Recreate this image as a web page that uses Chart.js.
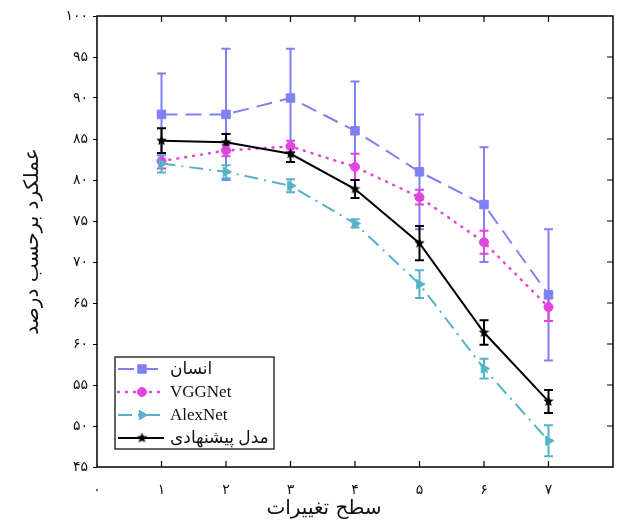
<!DOCTYPE html>
<html>
<head>
<meta charset="utf-8">
<script src="https://cdn.jsdelivr.net/npm/chart.js@4/dist/chart.umd.min.js"></script>
<style>
html,body{margin:0;padding:0;background:#fff;}
#wrap{width:620px;height:526px;position:relative;}
</style>
</head>
<body>
<div id="wrap"><canvas id="c" width="620" height="526"></canvas></div>
<script>
// ---- data ----
const levels = [1, 2, 3, 4, 5, 6, 7];
const seriesNames = ['انسان', 'VGGNet', 'AlexNet', 'مدل پیشنهادی'];
const humanMean = [88, 88, 90, 86, 81, 77, 66];
const humanErr  = [5, 8, 6, 6, 7, 7, 8];
const vggMean   = [82.3, 83.6, 84.1, 81.6, 77.9, 72.4, 64.5];
const vggErr    = [0.9, 0.7, 0.7, 1.6, 0.9, 1.4, 1.7];
const alexMean  = [82.0, 81.0, 79.3, 74.7, 67.3, 57.0, 48.2];
const alexErr   = [1.1, 0.8, 0.8, 0.5, 1.7, 1.2, 1.9];
const propMean  = [84.8, 84.6, 83.2, 78.9, 72.3, 61.4, 53.0];
const propErr   = [1.5, 1.0, 1.0, 1.1, 2.1, 1.5, 1.4];
const xTickLabels = ['۰', '۱', '۲', '۳', '۴', '۵', '۶', '۷', ''];
const yTickLabels = ['۴۵', '۵۰', '۵۵', '۶۰', '۶۵', '۷۰', '۷۵', '۸۰', '۸۵', '۹۰', '۹۵', '۱۰۰'];
const xTitle = 'سطح تغییرات';
const yTitle = 'عملکرد برحسب درصد';

const toPts = (m) => levels.map((x, i) => ({x: x, y: m[i]}));
const FONT = '"Liberation Serif", "DejaVu Sans", serif';
const PFONT = '"DejaVu Sans", sans-serif';

// filled five-point star marker
function makeStar(size, color) {
  const c = document.createElement('canvas');
  c.width = size; c.height = size;
  const g = c.getContext('2d');
  const cx = size / 2, cy = size / 2, R = size / 2, r = R * 0.45;
  g.beginPath();
  for (let i = 0; i < 10; i++) {
    const ang = -Math.PI / 2 + i * Math.PI / 5;
    const rr = i % 2 === 0 ? R : r;
    const px = cx + rr * Math.cos(ang), py = cy + rr * Math.sin(ang);
    if (i === 0) g.moveTo(px, py); else g.lineTo(px, py);
  }
  g.closePath();
  g.fillStyle = color;
  g.fill();
  return c;
}
const starImg = makeStar(11, '#000');

const styles = [
  {color: '#8080f6', dash: [16, 8], cap: 'butt', width: 2, style: 'rect', r: 6, rot: 0, bw: 1},
  {color: '#e045e0', dash: [1, 7], cap: 'round', width: 2.5, style: 'circle', r: 4.5, rot: 0, bw: 1},
  {color: '#55b3c8', dash: [14, 6, 2, 6], cap: 'butt', width: 2, style: 'triangle', r: 5.5, rot: 90, bw: 1},
  {color: '#000000', dash: [], cap: 'butt', width: 2, style: starImg, r: 5, rot: 0, bw: 1}
];
const means = [humanMean, vggMean, alexMean, propMean];
const errs = [humanErr, vggErr, alexErr, propErr];
const orders = [3, 2, 1, 0];

const datasets = seriesNames.map((name, k) => ({
  label: name,
  data: toPts(means[k]),
  errors: errs[k],
  borderColor: styles[k].color,
  backgroundColor: styles[k].color,
  borderWidth: styles[k].width,
  borderDash: styles[k].dash,
  borderCapStyle: styles[k].cap,
  pointStyle: styles[k].style,
  pointRadius: styles[k].r,
  pointRotation: styles[k].rot,
  pointBorderWidth: styles[k].bw,
  pointBackgroundColor: styles[k].color,
  pointBorderColor: styles[k].color,
  tension: 0,
  fill: false,
  order: orders[k]
}));

const errorBars = {
  id: 'errorBars',
  beforeDatasetsDraw(chart) {
    const {ctx, scales: {x, y}} = chart;
    ctx.save();
    chart.data.datasets.forEach((ds) => {
      ctx.strokeStyle = ds.borderColor;
      ctx.lineWidth = 2;
      ctx.setLineDash([]);
      ds.data.forEach((p, j) => {
        const e = ds.errors[j];
        const px = x.getPixelForValue(p.x);
        const t = y.getPixelForValue(p.y + e);
        const b = y.getPixelForValue(p.y - e);
        ctx.beginPath();
        ctx.moveTo(px, t); ctx.lineTo(px, b);
        ctx.moveTo(px - 4.5, t); ctx.lineTo(px + 4.5, t);
        ctx.moveTo(px - 4.5, b); ctx.lineTo(px + 4.5, b);
        ctx.stroke();
      });
    });
    ctx.restore();
  }
};

const frame = {
  id: 'frame',
  afterDraw(chart) {
    const {ctx, chartArea: a, scales: {x, y}} = chart;
    ctx.save();
    ctx.strokeStyle = '#000';
    ctx.lineWidth = 1.5;
    ctx.setLineDash([]);
    ctx.strokeRect(a.left, a.top, a.width, a.height);
    ctx.lineWidth = 1.2;
    ctx.beginPath();
    levels.forEach((v) => {
      const px = x.getPixelForValue(v);
      ctx.moveTo(px, a.top); ctx.lineTo(px, a.top + 6);
      ctx.moveTo(px, a.bottom); ctx.lineTo(px, a.bottom - 6);
    });
    y.ticks.forEach((t) => {
      if (t.value <= y.min || t.value >= y.max) return;
      const py = y.getPixelForValue(t.value);
      ctx.moveTo(a.right, py); ctx.lineTo(a.right - 6, py);
    });
    ctx.stroke();

    // legend
    const lx = a.left + 18, ly = a.bottom - 110, lw = 159, lh = 92;
    ctx.fillStyle = '#fff';
    ctx.fillRect(lx, ly, lw, lh);
    ctx.strokeStyle = '#333';
    ctx.lineWidth = 1.5;
    ctx.strokeRect(lx, ly, lw, lh);
    chart.data.datasets.forEach((ds, k) => {
      const ry = ly + 12 + k * 23;
      ctx.save();
      ctx.strokeStyle = ds.borderColor;
      ctx.lineWidth = ds.borderWidth;
      ctx.setLineDash(ds.borderDash);
      ctx.lineCap = ds.borderCapStyle;
      ctx.beginPath();
      ctx.moveTo(lx + 3, ry); ctx.lineTo(lx + 49, ry);
      ctx.stroke();
      ctx.setLineDash([]);
      ctx.fillStyle = ds.pointBackgroundColor;
      ctx.lineWidth = ds.pointBorderWidth;
      Chart.helpers.drawPoint(ctx, {pointStyle: ds.pointStyle, radius: ds.pointRadius, rotation: ds.pointRotation, borderWidth: ds.pointBorderWidth}, lx + 27, ry);
      ctx.restore();
      ctx.fillStyle = '#111';
      ctx.font = '17px ' + FONT;
      ctx.textAlign = 'left';
      ctx.textBaseline = 'middle';
      ctx.fillText(ds.label, lx + 55, ry + 1);
    });

    // axis titles
    ctx.fillStyle = '#111';
    ctx.font = '20px ' + PFONT;
    ctx.textAlign = 'center';
    ctx.textBaseline = 'middle';
    ctx.fillText(xTitle, 324, 509);
    ctx.save();
    ctx.translate(33, (a.top + a.bottom) / 2);
    ctx.rotate(-Math.PI / 2);
    ctx.fillText(yTitle, 0, 0);
    ctx.restore();
    ctx.restore();
  }
};

new Chart(document.getElementById('c'), {
  type: 'line',
  data: {datasets: datasets},
  options: {
    responsive: false,
    animation: false,
    layout: {padding: {top: 16, right: 1, left: 0, bottom: 0}},
    plugins: {legend: {display: false}, tooltip: {enabled: false}},
    scales: {
      x: {
        type: 'linear', min: 0, max: 8,
        afterFit(s) { s.height = 59; s.paddingRight = 0; s.paddingLeft = 0; },
        grid: {display: false},
        border: {display: false},
        ticks: {
          stepSize: 1, autoSkip: false, maxRotation: 0, padding: 7,
          color: '#111', font: {family: PFONT, size: 14},
          callback: (v) => xTickLabels[v]
        }
      },
      y: {
        type: 'linear', min: 45, max: 100,
        afterFit(s) { s.width = 97; },
        grid: {drawOnChartArea: false, drawTicks: true, tickLength: 4, color: '#000'},
        border: {display: false},
        ticks: {
          stepSize: 5, padding: 5, color: '#111', font: {family: PFONT, size: 14},
          callback: (v, i) => yTickLabels[i]
        }
      }
    }
  },
  plugins: [errorBars, frame]
});
</script>
</body>
</html>
